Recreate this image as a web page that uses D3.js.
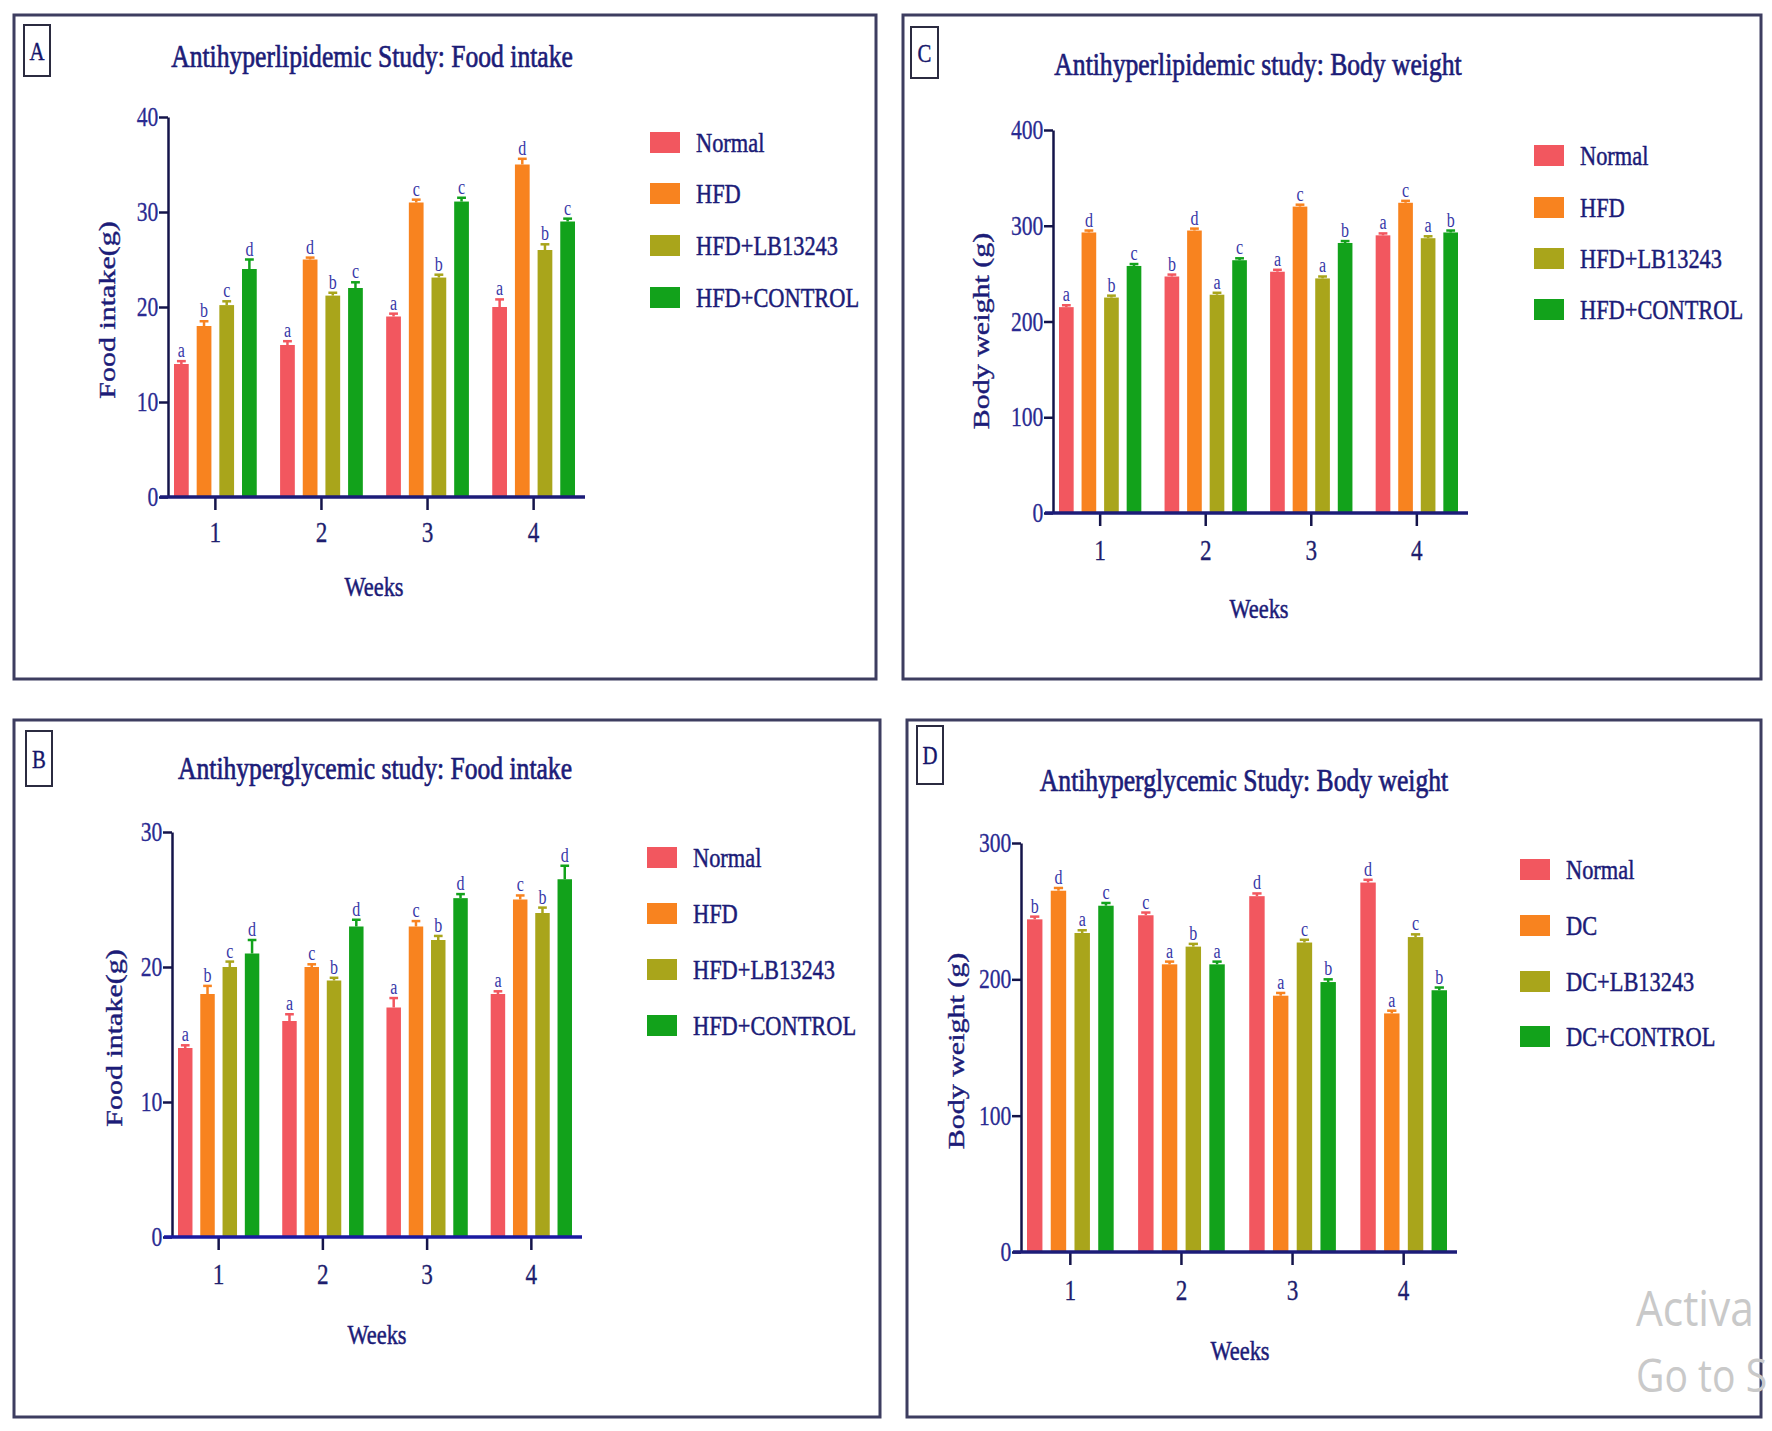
<!DOCTYPE html>
<html>
<head>
<meta charset="utf-8">
<script src="https://cdn.jsdelivr.net/npm/d3@7"></script>
<style>
  body { margin: 0; background: #fff; }
  text { font-family: "Liberation Serif", "Times New Roman", serif; }
</style>
</head>
<body>
<svg id="fig" width="1772" height="1431"></svg>
<script>
// categories
var weeks = ["1", "2", "3", "4"];
var hfdGroups = ["Normal", "HFD", "HFD+LB13243", "HFD+CONTROL"];
var dcGroups = ["Normal", "DC", "DC+LB13243", "DC+CONTROL"];
var barColors = ["#f2575f", "#f8831f", "#a9a51b", "#12a21b"];

// A: antihyperlipidemic food intake (g), one array per group, weeks 1-4
var lipFoodNormal = [14, 16, 19, 20];
var lipFoodHFD = [18, 25, 31, 35];
var lipFoodLB = [20.2, 21.2, 23.1, 26];
var lipFoodControl = [24, 22, 31.1, 29];
var lipFoodErr = [[0.3, 0.4, 0.3, 0.8], [0.5, 0.2, 0.3, 0.6], [0.4, 0.3, 0.3, 0.6], [1.0, 0.6, 0.4, 0.3]];
var lipFoodLetters = [["a", "a", "a", "a"], ["b", "d", "c", "d"], ["c", "b", "b", "b"], ["d", "c", "c", "c"]];

// C: antihyperlipidemic body weight (g)
var lipBwNormal = [215, 247, 252, 290];
var lipBwHFD = [293, 295, 320, 324];
var lipBwLB = [225, 228, 245, 287];
var lipBwControl = [258, 264, 282, 293];
var lipBwErr = [[2, 2, 2, 2], [2, 2, 2, 2], [2, 2, 2, 2], [2, 2, 2, 2]];
var lipBwLetters = [["a", "b", "a", "a"], ["d", "d", "c", "c"], ["b", "a", "a", "a"], ["c", "c", "b", "b"]];

// B: antihyperglycemic food intake (g)
var glyFoodNormal = [14, 16, 17, 18];
var glyFoodHFD = [18, 20, 23, 25];
var glyFoodLB = [20, 19, 22, 24];
var glyFoodControl = [21, 23, 25.1, 26.5];
var glyFoodErr = [[0.2, 0.5, 0.7, 0.2], [0.6, 0.2, 0.4, 0.3], [0.4, 0.2, 0.3, 0.4], [1.0, 0.5, 0.3, 1.0]];
var glyFoodLetters = [["a", "a", "a", "a"], ["b", "c", "c", "c"], ["c", "b", "b", "b"], ["d", "d", "d", "d"]];

// D: antihyperglycemic body weight (g)
var glyBwNormal = [244, 247, 261, 271];
var glyBwDC = [265, 211, 188, 175];
var glyBwLB = [234, 224, 227, 231];
var glyBwControl = [254, 211, 198, 192];
var glyBwErr = [[2, 2, 2, 2], [2, 2, 2, 2], [2, 2, 2, 2], [2, 2, 2, 2]];
var glyBwLetters = [["b", "c", "d", "d"], ["d", "a", "a", "a"], ["a", "b", "c", "c"], ["c", "a", "b", "b"]];

var SQ = 0.8; // the whole figure is squeezed horizontally
var navy = "#1c1c78";
var svg = d3.select("#fig");

var panels = [
  {
    box: [14, 15, 876, 679], tag: "A", tagBox: [24, 25, 50, 76],
    title: "Antihyperlipidemic Study: Food intake", titleX: 372, titleY: 67,
    axisX: 168, axisEnd: 585, yTop: 117, yBottom: 497, yMax: 40, yTicks: [0, 10, 20, 30, 40],
    ylabel: "Food intake(g)", ylabelX: 107, ylabelY: 310, weeksX: 374, weeksY: 596, xTickY: 542,
    groups: hfdGroups, series: [lipFoodNormal, lipFoodHFD, lipFoodLB, lipFoodControl],
    err: lipFoodErr, letters: lipFoodLetters, legendX: 650, legendY: [142, 193, 245, 297], xAxisColor: navy
  },
  {
    box: [903, 15, 1761, 679], tag: "C", tagBox: [911, 27, 938, 78],
    title: "Antihyperlipidemic study: Body weight", titleX: 1258, titleY: 75,
    axisX: 1053, axisEnd: 1468, yTop: 130, yBottom: 513, yMax: 400, yTicks: [0, 100, 200, 300, 400],
    ylabel: "Body weight (g)", ylabelX: 981, ylabelY: 331, weeksX: 1259, weeksY: 618, xTickY: 560,
    groups: hfdGroups, series: [lipBwNormal, lipBwHFD, lipBwLB, lipBwControl],
    err: lipBwErr, letters: lipBwLetters, legendX: 1534, legendY: [155, 207, 258, 309], xAxisColor: navy
  },
  {
    box: [14, 720, 880, 1417], tag: "B", tagBox: [26, 731, 52, 786],
    title: "Antihyperglycemic study: Food intake", titleX: 375, titleY: 779,
    axisX: 172, axisEnd: 582, yTop: 832, yBottom: 1237, yMax: 30, yTicks: [0, 10, 20, 30],
    ylabel: "Food intake(g)", ylabelX: 114, ylabelY: 1038, weeksX: 377, weeksY: 1344, xTickY: 1284,
    groups: hfdGroups, series: [glyFoodNormal, glyFoodHFD, glyFoodLB, glyFoodControl],
    err: glyFoodErr, letters: glyFoodLetters, legendX: 647, legendY: [857, 913, 969, 1025], xAxisColor: "#1a1aa0"
  },
  {
    box: [907, 720, 1761, 1417], tag: "D", tagBox: [917, 726, 943, 784],
    title: "Antihyperglycemic Study: Body weight", titleX: 1244, titleY: 791,
    axisX: 1021, axisEnd: 1457, yTop: 843, yBottom: 1252, yMax: 300, yTicks: [0, 100, 200, 300],
    ylabel: "Body weight (g)", ylabelX: 956, ylabelY: 1051, weeksX: 1240, weeksY: 1360, xTickY: 1300,
    groups: dcGroups, series: [glyBwNormal, glyBwDC, glyBwLB, glyBwControl],
    err: glyBwErr, letters: glyBwLetters, legendX: 1520, legendY: [869, 925, 981, 1036], xAxisColor: navy
  }
];

// put a text at (x,y) and squeeze it horizontally like the source image
function squashText(g, x, y, str, size, rotate) {
  var t = g.append("text")
    .attr("transform", "translate(" + x + "," + y + ") scale(" + SQ + ",1)" + (rotate ? " rotate(-90)" : ""))
    .attr("font-size", size)
    .attr("fill", navy)
    .text(str);
  return t;
}

// the scanned text looks heavier than a plain serif
function heavy(t, w) {
  return t.attr("stroke", t.attr("fill")).attr("stroke-width", w || 0.5);
}

function drawPanel(p) {
  var g = svg.append("g");

  g.append("rect")
    .attr("x", p.box[0]).attr("y", p.box[1])
    .attr("width", p.box[2] - p.box[0]).attr("height", p.box[3] - p.box[1])
    .attr("fill", "none").attr("stroke", "#3d3d60").attr("stroke-width", 3);

  g.append("rect")
    .attr("x", p.tagBox[0]).attr("y", p.tagBox[1])
    .attr("width", p.tagBox[2] - p.tagBox[0]).attr("height", p.tagBox[3] - p.tagBox[1])
    .attr("fill", "none").attr("stroke", "#2b2b40").attr("stroke-width", 2);
  heavy(squashText(g, (p.tagBox[0] + p.tagBox[2]) / 2, (p.tagBox[1] + p.tagBox[3]) / 2 + 9, p.tag, 26)
    .attr("text-anchor", "middle").attr("fill", "#15156a"), 0.4);

  heavy(squashText(g, p.titleX, p.titleY, p.title, 32).attr("text-anchor", "middle"), 0.7);

  var x = d3.scaleBand().domain(weeks).range([p.axisX + 6, p.axisEnd - 10]).paddingInner(0.22);
  var xs = d3.scaleBand().domain(p.groups).range([0, x.bandwidth()]).paddingInner(0.35);
  var y = d3.scaleLinear().domain([0, p.yMax]).range([p.yBottom, p.yTop]);

  // bars
  p.series.forEach(function (vals, si) {
    var grp = p.groups[si];
    var bg = g.append("g").attr("fill", barColors[si]);
    bg.selectAll("rect").data(vals).enter().append("rect")
      .attr("x", function (d, i) { return x(weeks[i]) + xs(grp); })
      .attr("y", function (d) { return y(d); })
      .attr("width", xs.bandwidth())
      .attr("height", function (d) { return y(0) - y(d); });

    // error bars
    var eg = g.append("g").attr("stroke", barColors[si]).attr("stroke-width", 2.5);
    vals.forEach(function (d, i) {
      var cx = x(weeks[i]) + xs(grp) + xs.bandwidth() / 2;
      var top = y(d + p.err[si][i]);
      eg.append("line").attr("x1", cx).attr("x2", cx).attr("y1", y(d)).attr("y2", top);
      eg.append("line").attr("x1", cx - xs.bandwidth() * 0.3).attr("x2", cx + xs.bandwidth() * 0.3)
        .attr("y1", top).attr("y2", top);
      squashText(g, cx, top - 4, p.letters[si][i], 20)
        .attr("text-anchor", "middle").attr("fill", "#3838a8");
    });
  });

  // y axis
  var ya = g.append("g").attr("transform", "translate(" + p.axisX + ",0)")
    .call(d3.axisLeft(y).tickValues(p.yTicks).tickSize(9).tickPadding(3).tickSizeOuter(0));
  ya.select(".domain").attr("stroke", "#14144a").attr("stroke-width", 2.5);
  ya.selectAll(".tick line").attr("stroke", "#14144a").attr("stroke-width", 2.5);
  ya.selectAll(".tick text")
    .attr("font-family", "Liberation Serif").attr("font-size", 27).attr("fill", "#2a2a92")
    .attr("stroke", "#2a2a92").attr("stroke-width", 0.3)
    .attr("transform", "scale(" + SQ + ",1)");

  // x axis
  var xa = g.append("g").attr("transform", "translate(0," + p.yBottom + ")")
    .call(d3.axisBottom(x).tickSize(13).tickPadding(10).tickSizeOuter(0));
  xa.select(".domain").remove();
  xa.append("line").attr("x1", p.axisX - 8).attr("x2", p.axisEnd)
    .attr("stroke", p.xAxisColor).attr("stroke-width", 3.5);
  xa.selectAll(".tick line").attr("stroke", "#14144a").attr("stroke-width", 2.5);
  xa.selectAll(".tick text").remove();
  weeks.forEach(function (w) {
    heavy(squashText(g, x(w) + x.bandwidth() / 2, p.xTickY, w, 29)
      .attr("text-anchor", "middle").attr("fill", "#1e1e6e"), 0.3);
  });

  // axis titles
  heavy(squashText(g, p.ylabelX, p.ylabelY, p.ylabel, 30, true)
    .attr("text-anchor", "middle").attr("dominant-baseline", "central"), 0.5);
  heavy(squashText(g, p.weeksX, p.weeksY, "Weeks", 28).attr("text-anchor", "middle"), 0.5);

  // legend
  p.groups.forEach(function (name, i) {
    g.append("rect")
      .attr("x", p.legendX).attr("y", p.legendY[i] - 10)
      .attr("width", 30).attr("height", 21)
      .attr("fill", barColors[i]);
    heavy(squashText(g, p.legendX + 46, p.legendY[i] + 10, name, 28), 0.5);
  });
}

panels.forEach(drawPanel);

// screen watermark visible at the bottom right of the source (cut by the image edge)
var wm = svg.append("g").attr("fill", "#c9c9c9");
wm.append("text").attr("transform", "translate(1636,1326) scale(0.85,1)")
  .attr("font-size", 50).style("font-family", "Open Sans").text("Activa");
wm.append("text").attr("transform", "translate(1636,1392) scale(0.85,1)")
  .attr("font-size", 46).style("font-family", "Open Sans").text("Go to S");
</script>
</body>
</html>
